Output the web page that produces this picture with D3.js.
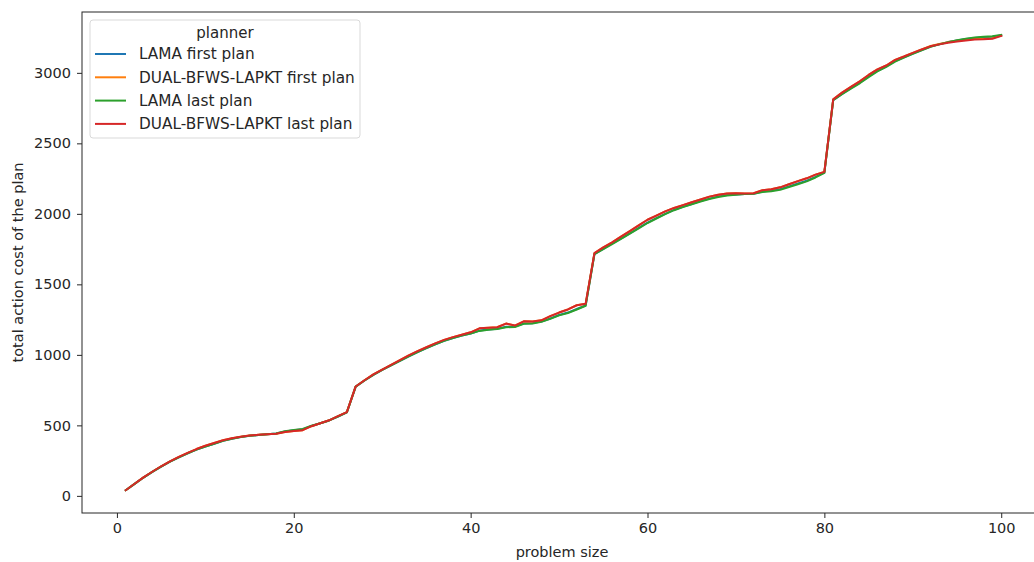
<!DOCTYPE html>
<html>
<head>
<meta charset="utf-8">
<script src="https://cdn.jsdelivr.net/npm/d3@7"></script>
<style>
  body { margin: 0; background: #fff; }
  text { font-family: "DejaVu Sans", sans-serif; fill: #262626; }
</style>
</head>
<body>
<div id="chart-area"></div>
<script>

// data (problem size 1..100)

var planners = ["LAMA first plan", "DUAL-BFWS-LAPKT first plan", "LAMA last plan", "DUAL-BFWS-LAPKT last plan"];
var colors = ["#1f77b4", "#ff7f0e", "#2ca02c", "#d62728"];

var lamaFirst = [40, 85, 130, 170, 208, 243, 273, 302, 328, 350,
    370, 390, 405, 417, 426, 432, 437, 442, 457, 466,
    472, 496, 515, 535, 563, 592, 775, 818, 858, 893,
    926, 958, 990, 1020, 1048, 1075, 1100, 1120, 1137, 1152,
    1172, 1180, 1185, 1200, 1200, 1222, 1225, 1236, 1258, 1283,
    1300, 1325, 1350, 1715, 1752, 1790, 1825, 1862, 1900, 1938,
    1970, 2000, 2028, 2050, 2070, 2090, 2108, 2124, 2133, 2138,
    2140, 2142, 2158, 2165, 2176, 2195, 2215, 2235, 2262, 2292,
    2807, 2850, 2892, 2930, 2975, 3015, 3045, 3084, 3110, 3136,
    3162, 3187, 3203, 3218, 3230, 3240, 3247, 3252, 3256, 3266];

var dualFirst = [40, 86, 131, 171, 210, 245, 276, 305, 332, 355,
    375, 394, 408, 419, 428, 433, 437, 441, 453, 460,
    466, 494, 515, 536, 565, 594, 776, 820, 861, 896,
    929, 962, 996, 1026, 1054, 1081, 1106, 1126, 1143, 1160,
    1188, 1192, 1196, 1222, 1208, 1238, 1236, 1245, 1275, 1300,
    1322, 1352, 1362, 1722, 1762, 1798, 1838, 1878, 1918, 1958,
    1988, 2018, 2042, 2062, 2082, 2102, 2122, 2136, 2144, 2146,
    2144, 2146, 2168, 2174, 2188, 2210, 2232, 2252, 2278, 2298,
    2812, 2860, 2900, 2940, 2985, 3024, 3052, 3092, 3116, 3142,
    3166, 3190, 3204, 3218, 3228, 3236, 3240, 3242, 3246, 3264];

var lamaLast = [40, 85, 130, 170, 208, 243, 273, 302, 328, 350,
    370, 390, 405, 417, 426, 432, 437, 442, 458, 468,
    474, 497, 515, 535, 563, 592, 775, 818, 858, 893,
    926, 958, 990, 1020, 1048, 1075, 1100, 1120, 1137, 1152,
    1170, 1178, 1183, 1196, 1198, 1220, 1222, 1234, 1255, 1280,
    1297, 1322, 1348, 1715, 1750, 1786, 1822, 1860, 1897, 1935,
    1967, 1998, 2026, 2048, 2068, 2088, 2105, 2120, 2130, 2136,
    2140, 2142, 2155, 2160, 2170, 2190, 2210, 2230, 2258, 2290,
    2807, 2848, 2888, 2926, 2970, 3010, 3042, 3080, 3108, 3134,
    3160, 3185, 3202, 3218, 3232, 3242, 3250, 3256, 3260, 3270];

var dualLast = [40, 86, 131, 171, 210, 245, 276, 305, 332, 355,
    375, 394, 408, 419, 428, 433, 437, 441, 453, 460,
    466, 494, 515, 536, 565, 594, 776, 820, 861, 896,
    929, 962, 996, 1026, 1054, 1081, 1106, 1126, 1143, 1160,
    1188, 1192, 1196, 1222, 1208, 1238, 1236, 1245, 1275, 1300,
    1322, 1352, 1362, 1722, 1762, 1798, 1838, 1878, 1918, 1958,
    1988, 2018, 2042, 2062, 2082, 2102, 2122, 2136, 2144, 2146,
    2144, 2146, 2168, 2174, 2188, 2210, 2232, 2252, 2278, 2298,
    2812, 2860, 2900, 2940, 2985, 3024, 3052, 3092, 3116, 3142,
    3166, 3188, 3202, 3214, 3222, 3230, 3236, 3238, 3242, 3262];

var xTicks = [0, 20, 40, 60, 80, 100];
var yTicks = [0, 500, 1000, 1500, 2000, 2500, 3000];

var series = [lamaFirst, dualFirst, lamaLast, dualLast];

// SVG drawing area

var margin = {top: 12, right: -11, bottom: 49, left: 82};

var width = 1034 - margin.left - margin.right,
    height = 562 - margin.top - margin.bottom;

var svg = d3.select("#chart-area").append("svg")
    .attr("width", 1034)
    .attr("height", 562)
    .append("g")
    .attr("transform", "translate(" + margin.left + "," + margin.top + ")");

// matplotlib style 5% margins
var x = d3.scaleLinear()
    .domain([1 - 99 * 0.05, 100 + 99 * 0.05])
    .range([0, width]);

var yMin = d3.min(series, function (s) { return d3.min(s); });
var yMax = d3.max(series, function (s) { return d3.max(s); });
var yPad = (yMax - yMin) * 0.05;
var y = d3.scaleLinear()
    .domain([yMin - yPad, yMax + yPad])
    .range([height, 0]);

var line = d3.line()
    .x(function (d, i) { return x(i + 1); })
    .y(function (d) { return y(d); });

series.forEach(function (s, k) {
    svg.append("path")
        .datum(s)
        .attr("fill", "none")
        .attr("stroke", colors[k])
        .attr("stroke-width", 2)
        .attr("stroke-linejoin", "round")
        .attr("stroke-linecap", "square")
        .attr("d", line);
});

// axes
var xAxis = svg.append("g")
    .attr("transform", "translate(0," + height + ")")
    .call(d3.axisBottom(x).tickValues(xTicks).tickSize(5).tickPadding(5).tickFormat(d3.format("d")));

var yAxis = svg.append("g")
    .call(d3.axisLeft(y).tickValues(yTicks).tickSize(5).tickPadding(6).tickFormat(d3.format("d")));

[xAxis, yAxis].forEach(function (a) {
    a.selectAll("text").style("font-size", "14.5px").attr("fill", "#262626");
    a.selectAll("line").attr("stroke", "#262626").attr("stroke-width", 1);
    a.select(".domain").remove();
});

// spines
svg.append("rect")
    .attr("x", 0)
    .attr("y", 0)
    .attr("width", width)
    .attr("height", height)
    .attr("fill", "none")
    .attr("stroke", "#262626")
    .attr("stroke-width", 1);

// x label sits under the middle of the full (partly cropped) axes
svg.append("text")
    .attr("x", 480)
    .attr("y", height + 44)
    .attr("text-anchor", "middle")
    .style("font-size", "14.5px")
    .text("problem size");

svg.append("text")
    .attr("transform", "translate(" + (-59) + "," + (height / 2) + ") rotate(-90)")
    .attr("text-anchor", "middle")
    .style("font-size", "14.5px")
    .text("total action cost of the plan");

// legend
var legend = svg.append("g")
    .attr("transform", "translate(8,8)");

legend.append("rect")
    .attr("width", 270)
    .attr("height", 118)
    .attr("rx", 3)
    .attr("fill", "#fff")
    .attr("fill-opacity", 0.8)
    .attr("stroke", "#d9d9d9");

legend.append("text")
    .attr("x", 135)
    .attr("y", 18)
    .attr("text-anchor", "middle")
    .style("font-size", "15px")
    .text("planner");

planners.forEach(function (p, k) {
    var row = legend.append("g")
        .attr("transform", "translate(0," + (34 + k * 23.3) + ")");
    row.append("line")
        .attr("x1", 5)
        .attr("x2", 36)
        .attr("stroke", colors[k])
        .attr("stroke-width", 2);
    row.append("text")
        .attr("x", 49)
        .attr("dy", "0.35em")
        .style("font-size", "15.3px")
        .text(p);
});

</script>
</body>
</html>
